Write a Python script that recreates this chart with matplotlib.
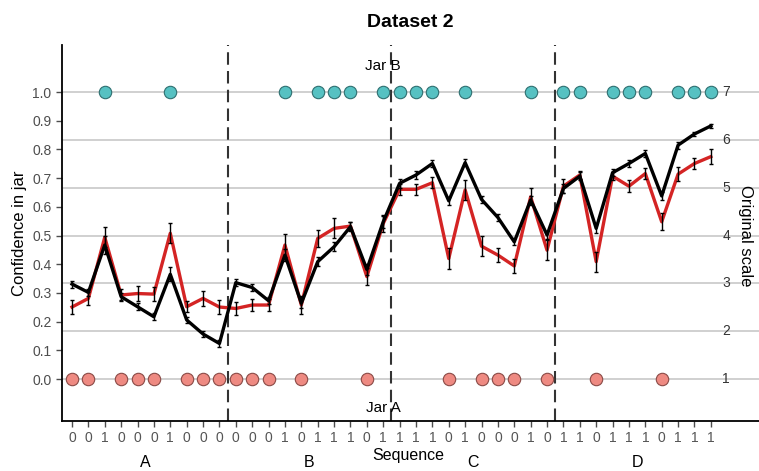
import numpy as np
import matplotlib.pyplot as plt

plt.rcParams['font.family'] = ['Liberation Sans', 'DejaVu Sans']

# draws: 0 = jar A, 1 = jar B
sequence = [0, 0, 1, 0, 0, 0, 1, 0, 0, 0,
            0, 0, 0, 1, 0, 1, 1, 1, 0, 1,
            1, 1, 1, 0, 1, 0, 0, 0, 1, 0,
            1, 1, 0, 1, 1, 1, 0, 1, 1, 1]
blocks = ['A', 'B', 'C', 'D']

black_mean = [0.331, 0.302, 0.467, 0.287, 0.252, 0.217, 0.365, 0.206, 0.157, 0.124,
              0.336, 0.319, 0.273, 0.432, 0.264, 0.409, 0.461, 0.531, 0.382, 0.548,
              0.682, 0.711, 0.751, 0.621, 0.754, 0.626, 0.563, 0.478, 0.624, 0.502,
              0.664, 0.707, 0.525, 0.719, 0.751, 0.786, 0.638, 0.815, 0.854, 0.882]
black_err = [0.012, 0.012, 0.03, 0.012, 0.012, 0.012, 0.025, 0.012, 0.012, 0.012,
             0.012, 0.012, 0.012, 0.02, 0.015, 0.015, 0.015, 0.015, 0.02, 0.02,
             0.015, 0.015, 0.012, 0.015, 0.012, 0.012, 0.012, 0.012, 0.015, 0.015,
             0.015, 0.015, 0.015, 0.012, 0.012, 0.012, 0.015, 0.012, 0.008, 0.008]

red_mean = [0.251, 0.281, 0.494, 0.293, 0.298, 0.296, 0.508, 0.252, 0.281, 0.251,
            0.246, 0.258, 0.258, 0.467, 0.258, 0.490, 0.525, 0.533, 0.357, 0.542,
            0.661, 0.661, 0.684, 0.420, 0.659, 0.463, 0.432, 0.394, 0.635, 0.449,
            0.672, 0.711, 0.409, 0.707, 0.672, 0.716, 0.548, 0.714, 0.751, 0.775]
red_err = [0.025, 0.022, 0.035, 0.02, 0.025, 0.025, 0.035, 0.02, 0.025, 0.025,
           0.022, 0.022, 0.022, 0.04, 0.03, 0.03, 0.035, 0.015, 0.03, 0.03,
           0.02, 0.02, 0.02, 0.035, 0.035, 0.035, 0.025, 0.025, 0.03, 0.035,
           0.025, 0.015, 0.035, 0.015, 0.02, 0.02, 0.03, 0.025, 0.02, 0.025]

orig_scale = [1, 2, 3, 4, 5, 6, 7]

x = np.arange(len(sequence))
seq = np.array(sequence)

fig = plt.figure(figsize=(7.59, 4.71), dpi=100)
ax = fig.add_axes([0.0817, 0.1062, 0.9183, 0.7983])

# grid lines at the original 1-7 scale
for k in orig_scale:
    y = (k - 1) / 6
    ax.axhline(y, color='#c8c8c8', lw=1.2, zorder=0)
    ax.text(39.7, y, str(k), ha='left', va='center', fontsize=10, color='#333333')

# block separators
for b in [9.5, 19.5, 29.5]:
    ax.axvline(b, color='#333333', lw=1.5, ls=(0, (6, 3)), zorder=1)

# draws
ax.scatter(x[seq == 1], np.ones((seq == 1).sum()), s=80, color='#56c1c2',
           edgecolor='#2f6f70', lw=0.8, zorder=3)
ax.scatter(x[seq == 0], np.zeros((seq == 0).sum()), s=80, color='#ee8a82',
           edgecolor='#8a4a46', lw=0.8, zorder=3)

ax.plot(x, red_mean, color='#d42424', lw=2.4, zorder=4)
ax.plot(x, black_mean, color='black', lw=2.4, zorder=5)
ax.errorbar(x, red_mean, yerr=red_err, fmt='none', ecolor='black', elinewidth=1,
            capsize=1.5, zorder=6)
ax.errorbar(x, black_mean, yerr=black_err, fmt='none', ecolor='black', elinewidth=1,
            capsize=1.5, zorder=6)

ax.text(19, 1.09, 'Jar B', ha='center', va='center', fontsize=11)
ax.text(19, -0.10, 'Jar A', ha='center', va='center', fontsize=11)

ax.set_xlim(-0.61, 41.94)
ax.set_ylim(-0.146, 1.164)
ax.set_xticks(x)
ax.set_xticklabels([str(s) for s in sequence])
ax.set_yticks(np.round(np.arange(0, 1.01, 0.1), 1))
ax.set_yticklabels(['%.1f' % v for v in np.arange(0, 1.01, 0.1)])
ax.tick_params(colors='#4d4d4d', labelsize=10, length=4, width=1)
ax.tick_params(axis='x', labelcolor='#555555')
for s in ['top', 'right']:
    ax.spines[s].set_visible(False)
for s in ['left', 'bottom']:
    ax.spines[s].set_linewidth(1.3)

ax.set_ylabel('Confidence in jar', fontsize=12)
ax.text(41.1, 0.5, 'Original scale', rotation=-90, ha='center', va='center', fontsize=12)

# block labels and x label
for i, b in enumerate(blocks):
    ax.text(i * 10 + 4.5, -0.29, b, ha='center', va='center', fontsize=11.5,
            clip_on=False)
ax.text(20.5, -0.265, 'Sequence', ha='center', va='center', fontsize=11.5, clip_on=False)

ax.set_title('Dataset 2', fontsize=14, fontweight='bold', pad=13)

fig.savefig('out.png', dpi=100)
